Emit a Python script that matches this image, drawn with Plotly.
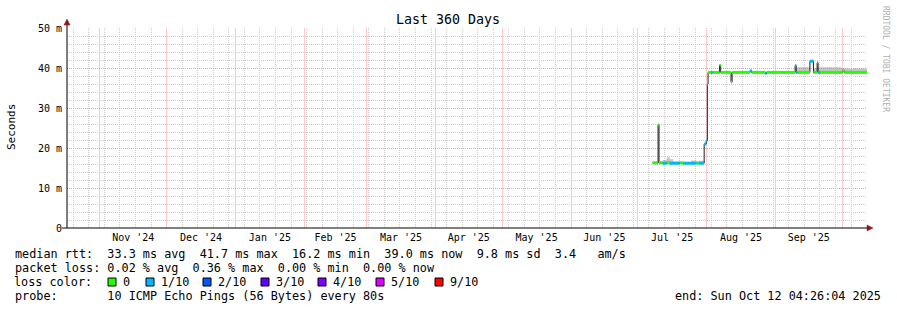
import plotly.graph_objects as go

# ---------------- data ----------------
title_text = "Last 360 Days"
range_start = "2024-10-17 04:26:04"
range_end = "2025-10-12 04:26:04"

dates = [
    "2025-07-07 16:00", "2025-07-09 22:00", "2025-07-10 04:00", "2025-07-10 14:00",
    "2025-07-12 06:00", "2025-07-14 00:00", "2025-07-15 12:00", "2025-07-17 00:00",
    "2025-07-20 00:00", "2025-07-21 12:00", "2025-07-25 00:00", "2025-07-27 12:00",
    "2025-07-28 12:00", "2025-07-30 22:00", "2025-07-31 20:00", "2025-08-01 08:00",
    "2025-08-01 16:00", "2025-08-03 00:00", "2025-08-03 18:00", "2025-08-06 20:00",
    "2025-08-07 08:00", "2025-08-12 00:00", "2025-08-12 12:00", "2025-08-20 12:00",
    "2025-08-21 06:00", "2025-08-27 12:00", "2025-08-28 00:00", "2025-09-09 20:00",
    "2025-09-10 08:00", "2025-09-11 00:00", "2025-09-16 12:00", "2025-09-18 02:00",
    "2025-09-19 18:00", "2025-09-20 04:00", "2025-09-21 00:00", "2025-09-30 12:00",
    "2025-10-01 06:00", "2025-10-02 00:00", "2025-10-12 04:26:04",
]
median_ms = [
    16.3, 16.2, 25.8, 16.3,
    16.2, 16.3, 16.2, 16.2,
    16.3, 16.2, 16.2, 16.2,
    16.2, 21.0, 21.8, 36.0,
    38.9, 38.9, 38.9, 40.7,
    38.9, 36.5, 38.9, 39.3,
    38.9, 38.6, 38.9, 40.6,
    38.9, 38.9, 41.7, 38.9,
    41.3, 38.9, 38.9, 38.9,
    39.3, 38.9, 38.9,
]
smoke_ms = [
    16.5, 16.4, 25.8, 16.6,
    17.0, 17.6, 17.2, 16.6,
    16.5, 16.4, 16.9, 16.6,
    16.8, 21.0, 21.8, 36.0,
    39.1, 39.1, 39.1, 40.9,
    39.1, 36.5, 39.0, 39.5,
    39.0, 38.9, 39.0, 41.0,
    39.8, 40.2, 42.0, 40.0,
    41.5, 40.1, 40.2, 40.0,
    40.0, 39.9, 39.9,
]
loss_tenths = [
    0, 0, 0, 0,
    1, 0, 1, 1,
    0, 1, 1, 0,
    1, 1, 1, 0,
    0, 1, 0, 0,
    0, 0, 0, 1,
    0, 1, 0, 1,
    1, 0, 1, 0,
    1, 1, 0, 0,
    0, 0, 0,
]

y_tickvals = [0, 10, 20, 30, 40, 50]
y_ticktext = ["0", "10 m", "20 m", "30 m", "40 m", "50 m"]

loss_levels = [0, 1, 2, 3, 4, 5, 9]
loss_labels = ["0", "1/10", "2/10", "3/10", "4/10", "5/10", "9/10"]
loss_colors = ["#26ff00", "#00b8ff", "#0059ff", "#5e00ff", "#7e00ff", "#dd00ff", "#ff0000"]

stats_rtt = "median rtt:  33.3 ms avg  41.7 ms max  16.2 ms min  39.0 ms now  9.8 ms sd  3.4   am/s"
stats_loss = "packet loss: 0.02 % avg  0.36 % max  0.00 % min  0.00 % now"
loss_title = "loss color:"
probe_text = "probe:       10 ICMP Echo Pings (56 Bytes) every 80s"
end_text = "end: Sun Oct 12 04:26:04 2025"
ylabel = "Seconds"
watermark = "RRDTOOL / TOBI OETIKER"

# ---------------- geometry helpers ----------------
W, H = 897, 310
L, R, T, B = 67, 30, 28, 82
PW, PH = W - L - R, H - T - B
MONO = "DejaVu Sans Mono"
LEG_SIZE = 11.8
PAD = 3  # annotation inner padding


def px(xp):
    return (xp - L) / PW


def py(yp):
    return (H - B - yp) / PH


def nb(s):
    return s.replace(" ", "\u00a0")


fig = go.Figure()

# smoke (spread of pings)
fig.add_trace(go.Scatter(x=dates, y=median_ms, mode="lines", line=dict(width=0, shape="hv"),
                         hoverinfo="skip", showlegend=False))
fig.add_trace(go.Scatter(x=dates, y=smoke_ms, mode="lines", line=dict(width=0, shape="hv"),
                         fill="tonexty", fillcolor="rgba(150,150,150,0.55)",
                         hoverinfo="skip", showlegend=False))

# median line
fig.add_trace(go.Scatter(x=dates, y=median_ms, mode="lines",
                         line=dict(color="#202020", width=1, shape="hv"),
                         showlegend=False))

# loss-coloured median bands
for lvl, col in zip(loss_levels, loss_colors):
    xs, ys = [], []
    for i in range(len(dates) - 1):
        if loss_tenths[i] == lvl:
            xs += [dates[i], dates[i + 1], None]
            ys += [median_ms[i], median_ms[i], None]
    if xs:
        fig.add_trace(go.Scatter(x=xs, y=ys, mode="lines",
                                 line=dict(color=col, width=3),
                                 connectgaps=False, showlegend=False))

shapes = []
# axis lines and arrows
shapes.append(dict(type="line", xref="paper", yref="paper", x0=px(62), x1=px(869), y0=0, y1=0,
                   line=dict(color="black", width=1)))
shapes.append(dict(type="line", xref="paper", yref="paper", x0=0, x1=0, y0=0, y1=py(23),
                   line=dict(color="black", width=1)))
shapes.append(dict(type="path", xref="paper", yref="paper",
                   path=f"M {px(867)},{py(225)} L {px(873)},{py(228)} L {px(867)},{py(231)} Z",
                   fillcolor="#8b1a1a", line=dict(color="#8b1a1a", width=0.5)))
shapes.append(dict(type="path", xref="paper", yref="paper",
                   path=f"M {px(64)},{py(25)} L {px(67)},{py(19)} L {px(70)},{py(25)} Z",
                   fillcolor="#8b1a1a", line=dict(color="#8b1a1a", width=0.5)))

annotations = []
annotations.append(dict(text=title_text, xref="paper", yref="paper", x=px(448), y=py(19),
                        xanchor="center", yanchor="middle", showarrow=False,
                        font=dict(family=MONO, size=13.3, color="black")))
annotations.append(dict(text=ylabel, xref="paper", yref="paper", x=px(11), y=py(127),
                        xanchor="center", yanchor="middle", textangle=-90, showarrow=False,
                        font=dict(family=MONO, size=11, color="black")))
annotations.append(dict(text=nb(watermark), xref="paper", yref="paper", x=px(886), y=py(59),
                        xanchor="center", yanchor="middle", textangle=90, showarrow=False,
                        font=dict(family=MONO, size=8, color="#b0b0b0")))

rows = [(stats_rtt, 254), (stats_loss, 268), (loss_title, 282), (probe_text, 296)]
for txt, yy in rows:
    annotations.append(dict(text=nb(txt), xref="paper", yref="paper", x=px(15.5 - PAD), y=py(yy),
                            xanchor="left", yanchor="middle", showarrow=False,
                            font=dict(family=MONO, size=LEG_SIZE, color="black")))
annotations.append(dict(text=nb(end_text), xref="paper", yref="paper", x=px(676 - PAD), y=py(296),
                        xanchor="left", yanchor="middle", showarrow=False,
                        font=dict(family=MONO, size=LEG_SIZE, color="black")))

sq_x = [108, 146, 203, 261, 318, 376, 435]
for sx, lab, col in zip(sq_x, loss_labels, loss_colors):
    shapes.append(dict(type="rect", xref="paper", yref="paper",
                       x0=px(sx), x1=px(sx + 8), y0=py(286), y1=py(278),
                       fillcolor=col, line=dict(color="black", width=1)))
    annotations.append(dict(text=lab, xref="paper", yref="paper", x=px(sx + 16 - PAD), y=py(282),
                            xanchor="left", yanchor="middle", showarrow=False,
                            font=dict(family=MONO, size=LEG_SIZE, color="black")))

fig.update_layout(
    width=W, height=H,
    margin=dict(l=L, r=R, t=T, b=B, pad=0),
    paper_bgcolor="white", plot_bgcolor="white",
    showlegend=False,
    shapes=shapes, annotations=annotations,
    xaxis=dict(
        type="date", range=[range_start, range_end],
        tick0="2024-11-01", dtick="M1", ticklabelmode="period", tickformat="%b '%y",
        showgrid=True, gridcolor="#ffcaca", gridwidth=1,
        minor=dict(dtick=7 * 86400000, tick0="2024-10-27", showgrid=True,
                   gridcolor="#cccccc", griddash="1px,1px", gridwidth=1),
        ticks="", showline=False, zeroline=False,
        tickfont=dict(family=MONO, size=10, color="black"),
        ticklabelstandoff=2,
    ),
    yaxis=dict(
        range=[0, 50], tickvals=y_tickvals, ticktext=y_ticktext,
        showgrid=True, gridcolor="#ff9a9a", griddash="1px,1px", gridwidth=1,
        minor=dict(dtick=2, showgrid=True, gridcolor="#cccccc", griddash="1px,1px", gridwidth=1),
        ticks="", showline=False, zeroline=False,
        tickfont=dict(family=MONO, size=10, color="black"),
        ticklabelstandoff=4,
    ),
)

fig.write_html("out.html")
